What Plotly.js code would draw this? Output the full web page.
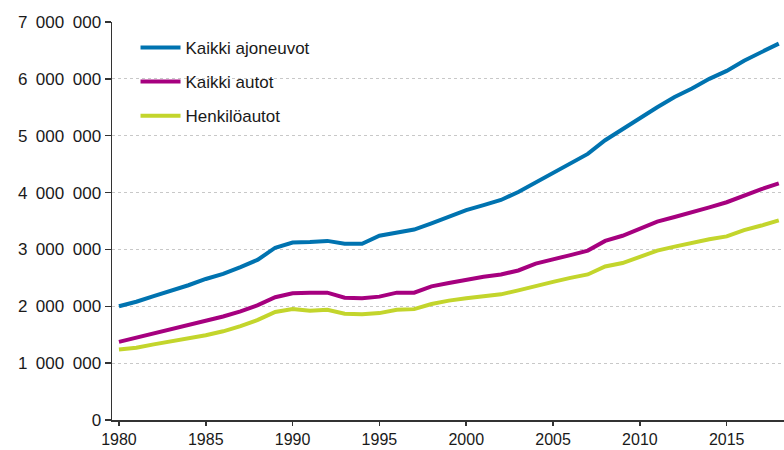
<!DOCTYPE html>
<html>
<head>
<meta charset="utf-8">
<script src="https://cdn.plot.ly/plotly-3.0.1.min.js"></script>
<style>html,body{margin:0;padding:0;background:#fff;}#chart{width:784px;height:450px;}</style>
</head>
<body>
<div id="chart"></div>
<script>
const years = [1980,1981,1982,1983,1984,1985,1986,1987,1988,1989,1990,1991,1992,1993,1994,1995,1996,1997,1998,1999,2000,2001,2002,2003,2004,2005,2006,2007,2008,2009,2010,2011,2012,2013,2014,2015,2016,2017,2018];
const kaikkiAjoneuvot = [2000000,2080000,2180000,2270000,2370000,2480000,2570000,2690000,2820000,3030000,3120000,3130000,3150000,3100000,3100000,3240000,3300000,3350000,3460000,3580000,3690000,3780000,3870000,4010000,4180000,4360000,4520000,4680000,4920000,5120000,5300000,5500000,5680000,5830000,6000000,6140000,6320000,6470000,6620000];
const kaikkiAutot = [1375000,1450000,1520000,1600000,1660000,1740000,1820000,1910000,2020000,2160000,2230000,2240000,2240000,2150000,2140000,2170000,2240000,2240000,2350000,2410000,2470000,2520000,2560000,2630000,2750000,2820000,2900000,2980000,3150000,3240000,3360000,3490000,3570000,3650000,3740000,3830000,3950000,4060000,4160000];
const henkiloautot = [1240000,1270000,1330000,1380000,1430000,1490000,1560000,1650000,1760000,1900000,1950000,1920000,1940000,1870000,1860000,1880000,1940000,1950000,2040000,2100000,2140000,2180000,2210000,2280000,2360000,2430000,2500000,2560000,2700000,2760000,2870000,2980000,3050000,3120000,3180000,3230000,3340000,3420000,3510000];
const seriesNames = ['Kaikki ajoneuvot','Kaikki autot','Henkilöautot'];
const seriesColors = ['#0073b0','#a6007f','#c3d52c'];
const xTickVals = [1980,1985,1990,1995,2000,2005,2010,2015];
const yTickVals = [0,1000000,2000000,3000000,4000000,5000000,6000000,7000000];
const yTickText = ['0','1\u2002000\u2002000','2\u2002000\u2002000','3\u2002000\u2002000','4\u2002000\u2002000','5\u2002000\u2002000','6\u2002000\u2002000','7\u2002000\u2002000'];

const seriesData = [kaikkiAjoneuvot, kaikkiAutot, henkiloautot];
const traces = seriesData.map((vals, i) => ({
  x: years, y: vals, type: 'scatter', mode: 'lines',
  name: seriesNames[i], legendgroup: 'g' + i,
  line: {color: seriesColors[i], width: 4, shape: 'linear'},
  hoverinfo: 'x+y+name'
}));

const font = {family: 'Liberation Sans, Arial, sans-serif', size: 17, color: '#1a1a1a'};
const xfont = {family: 'Liberation Sans, Arial, sans-serif', size: 16, color: '#1a1a1a'};
const layout = {
  width: 784, height: 450,
  margin: {l: 112, r: 0, t: 22, b: 30},
  paper_bgcolor: '#fff', plot_bgcolor: '#fff',
  font: font,
  showlegend: true,
  legend: {x: 0.035, y: 0.98, xanchor: 'left', yanchor: 'top', bgcolor: 'rgba(0,0,0,0)',
           font: font, tracegroupgap: 9, itemwidth: 40},
  xaxis: {
    range: [1979.6, 2018.3], tickmode: 'array', tickvals: xTickVals,
    ticks: 'outside', ticklen: 4, tickcolor: '#333', tickwidth: 1.5,
    showline: true, linecolor: '#333', linewidth: 1.5, showgrid: false, zeroline: false,
    tickfont: xfont, fixedrange: true
  },
  yaxis: {
    range: [0, 7000000], tickmode: 'array', tickvals: yTickVals, ticktext: yTickText,
    ticks: 'outside', ticklen: 6, tickcolor: '#333', tickwidth: 1.5,
    showline: true, linecolor: '#333', linewidth: 1.5,
    showgrid: true, gridcolor: '#c8c8c8', griddash: 'dot', gridwidth: 1, zeroline: false,
    tickfont: font, fixedrange: true
  }
};
Plotly.newPlot('chart', traces, layout, {displayModeBar: false, staticPlot: true});
</script>
</body>
</html>
